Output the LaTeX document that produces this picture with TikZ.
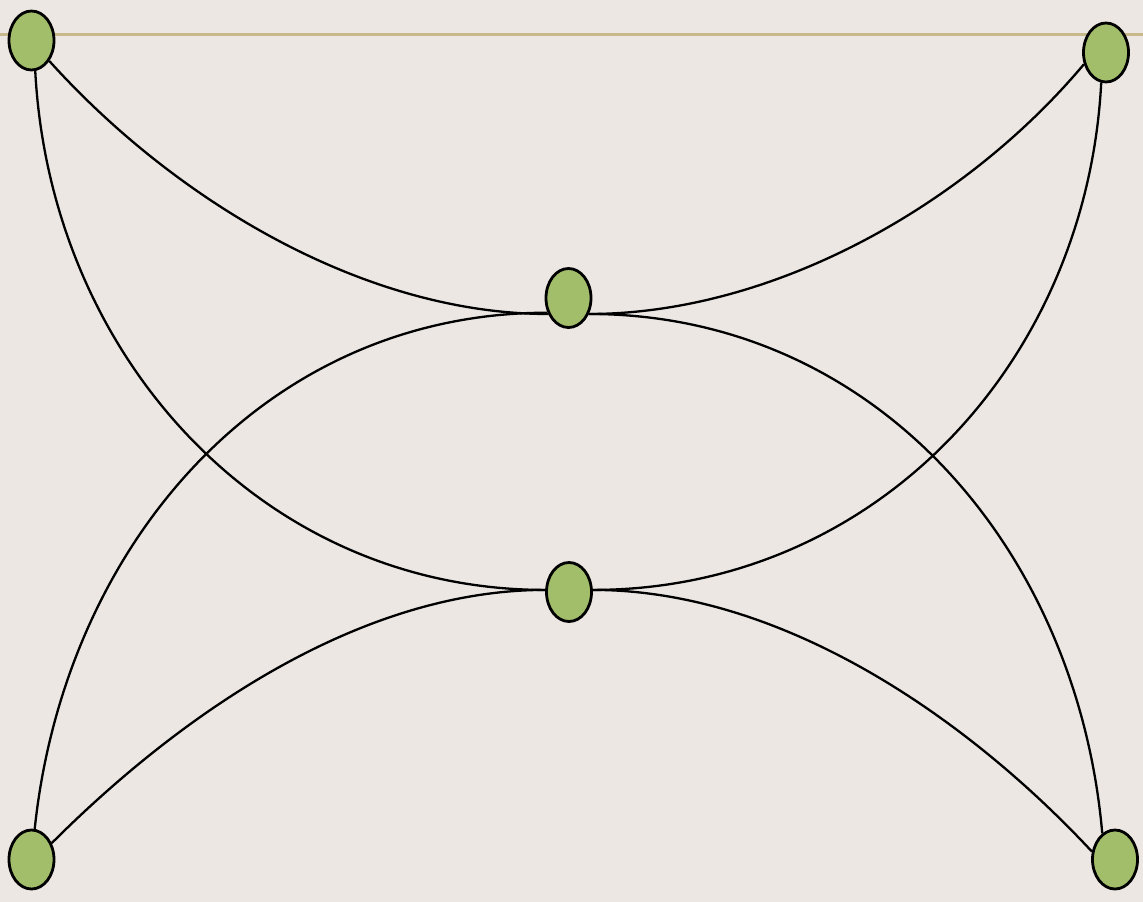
\documentclass[tikz,border=0pt]{standalone}
\usetikzlibrary{shapes.geometric}
\definecolor{paper}{HTML}{ECE7E3}
\definecolor{leaf}{HTML}{A3BE6A}
\definecolor{rule}{HTML}{C8B98A}
\tikzset{
  vertex/.style={ellipse, draw=black, line width=2.8pt, fill=leaf,
    inner sep=0pt, minimum width=45pt, minimum height=59pt},
  edge/.style={line width=2.3pt}
}
\begin{document}
\begin{tikzpicture}[x=1pt, y=-1pt]
  % Background and top rule
  \fill[paper] (0,0) rectangle (1143,902);
  \useasboundingbox (0,0) rectangle (1143,902);
  \draw[rule, line width=2.2pt] (0,34.5) -- (1143,34.5);
  % Vertices
  \foreach \name/\x/\y in {tl/31.5/40.5, tr/1106/52.5, mt/568.5/298,
                           mb/569/592, bl/31.5/859.5, br/1115/859.5}{
    \node[vertex] (\name) at (\x,\y) {};
  }
  % Curved edges: start/end anchors, out/in angles, looseness
  \foreach \a/\b/\o/\i/\l in {tl.-49/mt.218/-48/180/0.85, tl.-83/mb.175/-87/180/1,
                              tr.208/mt.-38/-130/0/0.85, tr.-99/mb.5/-93/0/1,
                              mt.215/bl.84/180/84/1, mt.-38/br.116/0/95/1,
                              mb.175/bl.39/180/45/0.85, mb.5/br.161/0/133/0.85}{
    \draw[edge] (\a) to[out=\o, in=\i, looseness=\l] (\b);
  }
\end{tikzpicture}
\end{document}
